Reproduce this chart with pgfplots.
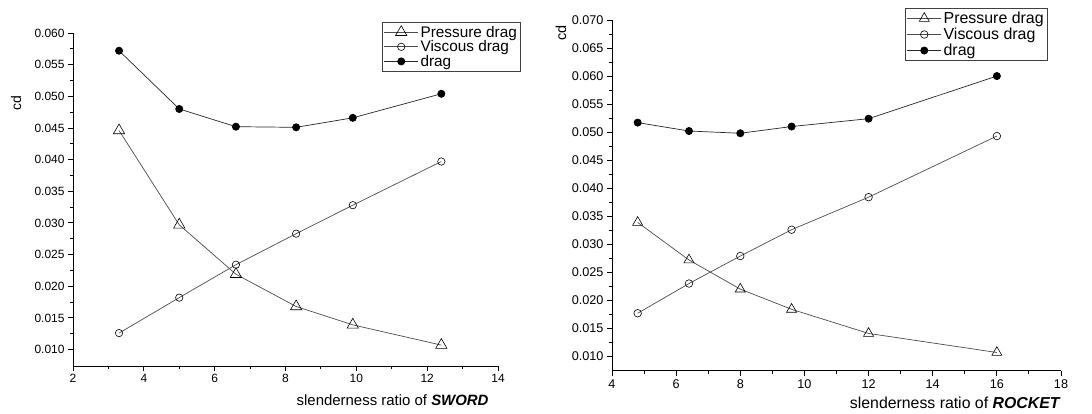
\documentclass[border=0pt]{standalone}
\usepackage{fontspec}
\setmainfont{Liberation Sans}
\usepackage{pgfplots}
\pgfplotsset{compat=1.18}
\begin{document}
\begin{tikzpicture}
\path[use as bounding box] (0,0) rectangle (1092bp,414bp);
\pgfplotsset{
  mystyle/.style={
    scale only axis,
    axis x line*=bottom, axis y line*=left,
    axis line style={line width=1bp, black},
    tick align=outside,
    major tick length=5bp, minor tick length=3bp,
    every tick/.style={black, line width=0.9bp},
    minor x tick num=1, minor y tick num=1,
    scaled y ticks=false,
    yticklabel style={/pgf/number format/.cd, fixed, fixed zerofill, precision=3, assume math mode=true},
    xticklabel style={/pgf/number format/assume math mode=true},
    ytick={0.010,0.015,0.020,0.025,0.030,0.035,0.040,0.045,0.050,0.055,0.060,0.065,0.070},
    legend cell align=left,
    legend image code/.code={\draw[mark repeat=2,mark phase=2,##1] plot coordinates {(0bp,0bp) (17bp,0bp) (34bp,0bp)};},
    every axis plot/.append style={line width=0.7bp, black!70},
  },
  pres/.style={mark=triangle, mark options={solid, draw=black, fill=white, line width=0.6bp}},
  visc/.style={mark=o, mark options={solid, draw=black, fill=white, line width=0.6bp}},
  dragst/.style={black!85, mark=*, mark options={solid, draw=black, fill=black}},
}
\begin{axis}[mystyle,
  at={(73bp,48bp)}, anchor=south west,
  width=425bp, height=333bp,
  xmin=2, xmax=14, ymin=0.0074, ymax=0.060,
  xtick={2,4,6,8,10,12,14},
  ticklabel style={font=\fontsize{12}{14}\selectfont},
  xlabel={slenderness ratio of \textbf{\textit{SWORD}}},
  xlabel style={at={(rel axis cs:0.986,-0.102)}, anchor=east, font=\fontsize{15}{17}\selectfont},
  ylabel={cd},
  ylabel style={at={(rel axis cs:-0.134,0.79)}, anchor=center, font=\fontsize{14}{16}\selectfont},
  legend style={at={(0.727,1.033)}, anchor=north west, draw=black!75, line width=0.8bp, fill=white,
    font=\fontsize{15.4}{17}\selectfont, inner sep=1.5bp, row sep=-2bp},
]
\addplot[pres, mark size=6.5bp] coordinates {(3.3,0.0446) (5.0,0.0297) (6.6,0.0219) (8.3,0.0168) (9.9,0.0139) (12.4,0.0107)};
\addlegendentry{Pressure drag}
\addplot[visc, mark size=3.7bp] coordinates {(3.3,0.0126) (5.0,0.0182) (6.6,0.0234) (8.3,0.0283) (9.9,0.0328) (12.4,0.0397)};
\addlegendentry{Viscous drag}
\addplot[dragst, mark size=3.6bp] coordinates {(3.3,0.0572) (5.0,0.0480) (6.6,0.0452) (8.3,0.0451) (9.9,0.0466) (12.4,0.0504)};
\addlegendentry{drag}
\end{axis}
\begin{axis}[mystyle,
  at={(612bp,43bp)}, anchor=south west,
  width=449bp, height=351bp,
  xmin=4, xmax=18, ymin=0.0074, ymax=0.070,
  xtick={4,6,8,10,12,14,16,18},
  ticklabel style={font=\fontsize{12.7}{14}\selectfont},
  xlabel={slenderness ratio of \textbf{\textit{ROCKET}}},
  xlabel style={at={(rel axis cs:1.007,-0.091)}, anchor=east, font=\fontsize{15.9}{18}\selectfont},
  ylabel={cd},
  ylabel style={at={(rel axis cs:-0.1136,0.963)}, anchor=center, font=\fontsize{14.5}{16}\selectfont},
  legend style={at={(0.6526,1.034)}, anchor=north west, draw=black!75, line width=0.8bp, fill=white,
    font=\fontsize{16}{18}\selectfont, inner sep=1.5bp, row sep=-1bp},
]
\addplot[pres, mark size=5.8bp] coordinates {(4.8,0.0339) (6.4,0.0272) (8.0,0.0220) (9.6,0.0184) (12.0,0.0141) (16.0,0.0107)};
\addlegendentry{Pressure drag}
\addplot[visc, mark size=3.8bp] coordinates {(4.8,0.0177) (6.4,0.0230) (8.0,0.0279) (9.6,0.0326) (12.0,0.0384) (16.0,0.0493)};
\addlegendentry{Viscous drag}
\addplot[dragst, mark size=3.6bp] coordinates {(4.8,0.0517) (6.4,0.0502) (8.0,0.0498) (9.6,0.0510) (12.0,0.0524) (16.0,0.0600)};
\addlegendentry{drag}
\end{axis}
\end{tikzpicture}
\end{document}
